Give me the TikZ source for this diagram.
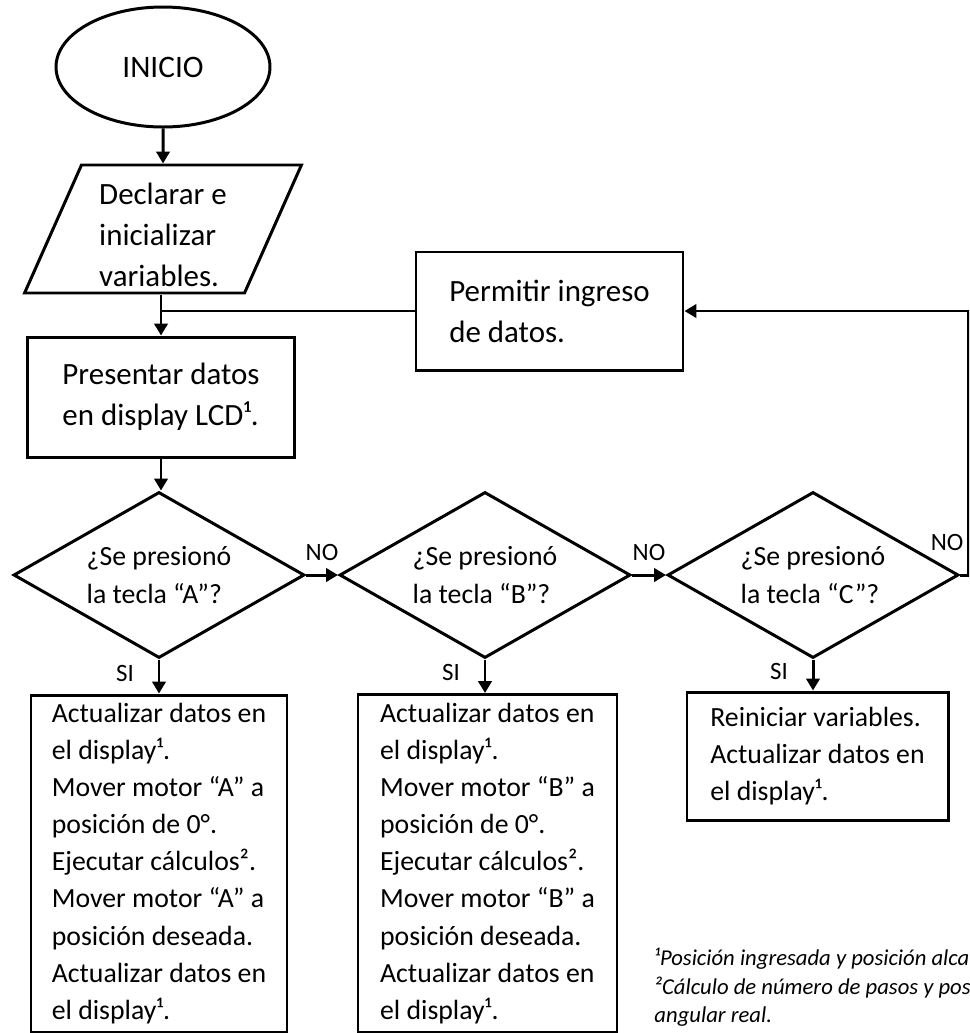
\documentclass[tikz,border=0pt]{standalone}
\usepackage{fontspec}
\setmainfont{Carlito}
\usepackage{tikz}
\usetikzlibrary{arrows.meta, calc, positioning, shapes}

\begin{document}
\begin{tikzpicture}[
    line width=0.85pt,
    flecha/.style={-{Triangle[length=3.4pt, width=3.8pt]}},
    proceso/.style={draw, rectangle, inner sep=0pt, align=left, font=\fontsize{7.9}{10.55}\selectfont},
    grande/.style={font=\fontsize{8.8}{11.7}\selectfont},
    decision/.style={draw, diamond, aspect=1.75, inner sep=0pt, minimum width=2.91cm, minimum height=1.66cm, align=left, font=\fontsize{7.9}{10.8}\selectfont},
    etiqueta/.style={inner sep=1pt, font=\fontsize{7.1}{8}\selectfont}
]
    \useasboundingbox (0,0) rectangle (9.69,-10.33);
    \clip (0,0) rectangle (9.69,-10.33);

    % Start and initialisation
    \node[draw, ellipse, minimum width=2.14cm, minimum height=1.20cm, inner sep=0pt, font=\fontsize{8.9}{11}\selectfont] (inicio) at (1.63,-0.67) {INICIO};
    \node[draw, trapezium, trapezium left angle=66, trapezium right angle=114, minimum width=2.76cm, minimum height=1.28cm, inner sep=0pt, grande] (declarar) at (1.63,-2.29) {\raisebox{-4.5pt}[0.5cm][0.5cm]{\begin{tabular}{@{}l@{}}Declarar e\\inicializar\\variables.\end{tabular}}};
    \node[proceso, grande, minimum width=2.67cm, minimum height=1.20cm] (presentar) at (1.61,-3.97) {Presentar datos\\en display LCD¹.};
    \node[proceso, grande, minimum width=2.67cm, minimum height=1.18cm] (permitir) at (5.495,-3.11) {Permitir ingreso\\de datos.};

    % Key checks
    \node[decision] (teclaA) at (1.59,-5.75) {¿Se presionó\\la tecla “A”?};
    \node[decision] (teclaB) at (4.85,-5.75) {¿Se presionó\\la tecla “B”?};
    \node[decision] (teclaC) at (8.13,-5.75) {¿Se presionó\\la tecla “C”?};

    % Actions
    \node[proceso, minimum width=2.56cm, minimum height=3.37cm] (accionA) at (1.59,-8.635) {Actualizar datos en\\el display¹.\\Mover motor “A” a\\posición de 0°.\\Ejecutar cálculos².\\Mover motor “A” a\\posición deseada.\\Actualizar datos en\\el display¹.};
    \node[proceso, minimum width=2.59cm, minimum height=3.38cm] (accionB) at (4.875,-8.635) {Actualizar datos en\\el display¹.\\Mover motor “B” a\\posición de 0°.\\Ejecutar cálculos².\\Mover motor “B” a\\posición deseada.\\Actualizar datos en\\el display¹.};
    \node[proceso, minimum width=2.61cm, minimum height=1.28cm] (accionC) at (8.175,-7.56) {Reiniciar variables.\\Actualizar datos en\\el display¹.};

    % Footnotes
    \node[anchor=north west, align=left, inner sep=0pt, font=\fontsize{6.45}{8.1}\selectfont\itshape] (notas) at (6.53,-9.47) {¹Posición ingresada y posición alca\\²Cálculo de número de pasos y pos\\angular real.};

    % Connectors
    \draw[flecha] (inicio) -- (declarar);
    \draw[flecha] (declarar.south -| presentar.north) -- (presentar);
    \draw (permitir.west) -- (permitir.west -| presentar.north);
    \draw[flecha] (presentar.south) -- (presentar.south |- teclaA.north);
    \draw[flecha] (teclaA) -- node[etiqueta, above=0.09cm] {NO} (teclaB);
    \draw[flecha] (teclaB) -- node[etiqueta, above=0.09cm] {NO} (teclaC);
    \draw[flecha] (teclaA.south) -- node[etiqueta, pos=0.4, left=0.2cm] {SI} (teclaA.south |- accionA.north);
    \draw[flecha] (teclaB.south) -- node[etiqueta, pos=0.4, left=0.2cm] {SI} (teclaB.south |- accionB.north);
    \draw[flecha] (teclaC.south) -- node[etiqueta, pos=0.4, left=0.2cm] {SI} (teclaC.south |- accionC.north);
    \coordinate (retorno) at (9.685,-5.75);
    \draw[flecha] (teclaC.east) -- (retorno) |- (permitir.east);
    \node[etiqueta, above left=0.19cm and 0cm of retorno] (noC) {NO};
\end{tikzpicture}
\end{document}
